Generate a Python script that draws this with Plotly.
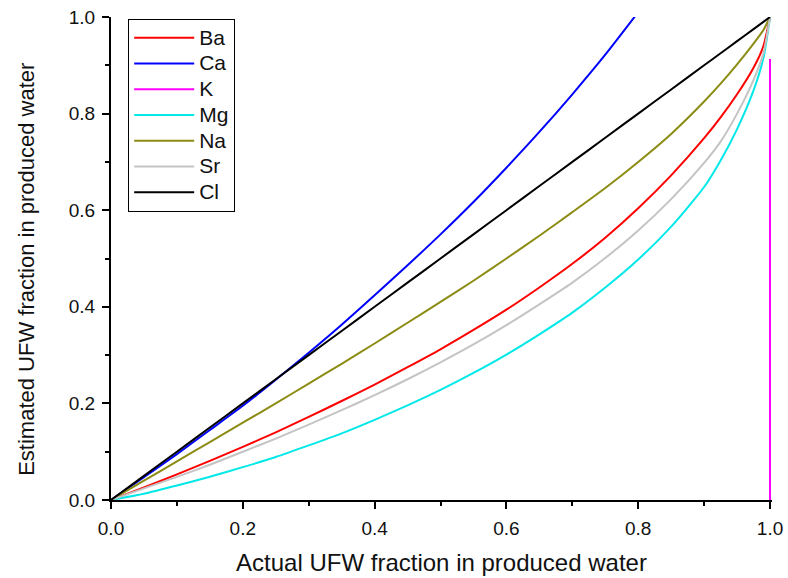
import plotly.graph_objects as go

# Actual UFW fraction in produced water (x) and the fraction estimated from each ion (y)
x_grid = [0.0, 0.05, 0.1, 0.15, 0.2, 0.25, 0.3, 0.35, 0.4, 0.45, 0.5, 0.55, 0.6,
          0.65, 0.7, 0.75, 0.8, 0.85, 0.9, 0.925, 0.95, 0.975, 0.99, 1.0]

ba_y = [0.0, 0.026, 0.053, 0.081, 0.110, 0.140, 0.172, 0.205, 0.239, 0.275, 0.312, 0.352, 0.394,
        0.440, 0.489, 0.543, 0.604, 0.672, 0.749, 0.792, 0.840, 0.895, 0.940, 1.0]
sr_y = [0.0, 0.024, 0.048, 0.073, 0.100, 0.127, 0.156, 0.186, 0.217, 0.250, 0.285, 0.322, 0.362,
        0.405, 0.450, 0.501, 0.558, 0.623, 0.698, 0.742, 0.800, 0.870, 0.925, 1.0]
mg_y = [0.0, 0.013, 0.030, 0.048, 0.068, 0.089, 0.113, 0.138, 0.166, 0.196, 0.228, 0.263, 0.301,
        0.343, 0.388, 0.440, 0.498, 0.566, 0.648, 0.703, 0.768, 0.848, 0.915, 1.0]
na_y = [0.0, 0.040, 0.080, 0.120, 0.160, 0.200, 0.241, 0.282, 0.324, 0.367, 0.410, 0.454, 0.500,
        0.547, 0.596, 0.646, 0.700, 0.758, 0.825, 0.862, 0.902, 0.945, 0.973, 1.0]
cl_y = [0.0, 0.05, 0.1, 0.15, 0.2, 0.25, 0.3, 0.35, 0.4, 0.45, 0.5, 0.55, 0.6,
        0.65, 0.7, 0.75, 0.8, 0.85, 0.9, 0.925, 0.95, 0.975, 0.99, 1.0]

ca_x = [0.0, 0.05, 0.1, 0.15, 0.2, 0.25, 0.3, 0.35, 0.4, 0.45, 0.5, 0.55, 0.6,
        0.65, 0.7, 0.75, 0.8]
ca_y = [0.0, 0.047, 0.095, 0.145, 0.195, 0.249, 0.305, 0.363, 0.424, 0.486, 0.550, 0.617, 0.688,
        0.762, 0.840, 0.922, 1.010]

k_x = [1.0, 1.0]
k_y = [0.0, 0.913]

series = [
    ("Ba", x_grid, ba_y, "#ff0000"),
    ("Ca", ca_x, ca_y, "#0000ff"),
    ("K", k_x, k_y, "#ff00ff"),
    ("Mg", x_grid, mg_y, "#00e8e8"),
    ("Na", x_grid, na_y, "#8c8c14"),
    ("Sr", x_grid, sr_y, "#c4c4c4"),
    ("Cl", x_grid, cl_y, "#000000"),
]

FONT = "Liberation Sans, Arial, sans-serif"
TEXT_COLOR = "#111111"

fig = go.Figure()
for name, xs, ys, color in series:
    fig.add_trace(go.Scatter(
        x=xs, y=ys, mode="lines",
        name=f'<span style="font-size:21px">{name}</span>',
        line=dict(color=color, width=2, shape="spline", smoothing=0.6),
    ))

axis_common = dict(
    automargin=False,
    showline=True, linecolor="black", linewidth=2,
    ticks="outside", ticklen=7, tickwidth=2, tickcolor="black",
    ticklabelstandoff=3,
    tick0=0, dtick=0.2, tickformat=".1f",
    minor=dict(ticks="outside", ticklen=4, tickwidth=2, tickcolor="black", dtick=0.1),
    showgrid=False, zeroline=False, mirror=False,
    tickfont=dict(family=FONT, size=19, color=TEXT_COLOR),
)

# a hair of room past 1.0 keeps the vertical K trace from being clipped at the edge
fig.update_xaxes(
    **axis_common,
    range=[0, 1.003],
    title=dict(text="Actual UFW fraction in produced water",
               font=dict(family=FONT, size=24, color=TEXT_COLOR),
               standoff=16),
)
fig.update_yaxes(**axis_common, range=[0, 1])

# y-axis title as a rotated annotation, sitting slightly below the plot centre
fig.add_annotation(
    text="Estimated UFW fraction in produced water",
    xref="paper", yref="paper", x=-0.129, y=0.478,
    xanchor="center", yanchor="middle", textangle=-90, showarrow=False,
    font=dict(family=FONT, size=22, color=TEXT_COLOR),
)

fig.update_layout(
    width=788, height=578,
    margin=dict(l=111, r=16, t=17, b=78),
    paper_bgcolor="white", plot_bgcolor="white",
    showlegend=True,
    legend=dict(
        x=0.026, y=0.996, xanchor="left", yanchor="top",
        bgcolor="white", bordercolor="black", borderwidth=1,
        font=dict(family=FONT, size=17.5, color=TEXT_COLOR),
        itemwidth=60, tracegroupgap=0,
    ),
)

fig.write_html("out.html")
